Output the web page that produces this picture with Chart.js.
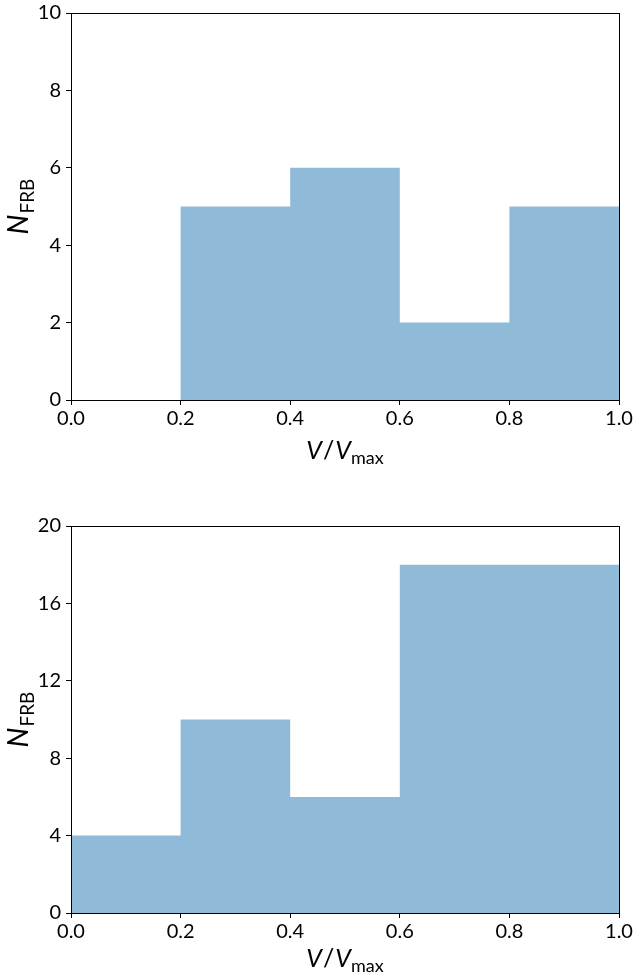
<!DOCTYPE html>
<html>
<head>
<meta charset="utf-8">
<script src="https://cdn.jsdelivr.net/npm/chart.js@4.4.1/dist/chart.umd.min.js"></script>
<style>
  html, body { margin: 0; padding: 0; background: #fff; }
  canvas { display: block; }
</style>
</head>
<body>
<canvas id="top" width="637" height="488"></canvas>
<canvas id="bottom" width="637" height="489"></canvas>
<script>
// ---- data ----
const binEdges = [0.0, 0.2, 0.4, 0.6, 0.8, 1.0];
const countsTop = [0, 5, 6, 2, 5];
const countsBottom = [4, 10, 6, 18, 18];
const xTickValues = [0.0, 0.2, 0.4, 0.6, 0.8, 1.0];
const yTicksTop = [0, 2, 4, 6, 8, 10];
const yTicksBottom = [0, 4, 8, 12, 16, 20];

const FONT = 'Lato, "Open Sans", sans-serif';
const FILL = 'rgba(31,119,180,0.5)';

function stepPoints(edges, counts) {
  return edges.map((e, i) => ({ x: e, y: counts[Math.min(i, counts.length - 1)] }));
}

const framePlugin = {
  id: 'frame',
  afterDraw(chart) {
    const a = chart.chartArea, ctx = chart.ctx;
    ctx.save();
    ctx.strokeStyle = '#000';
    ctx.lineWidth = 1;
    ctx.strokeRect(Math.round(a.left) + 0.5, Math.round(a.top) + 0.5,
                   Math.round(a.right - a.left), Math.round(a.bottom - a.top));
    ctx.restore();
  }
};

function drawParts(ctx, parts, startX, baseY) {
  let x = startX;
  for (const p of parts) {
    ctx.font = p.font;
    ctx.fillText(p.t, x, baseY + (p.dy || 0));
    x += ctx.measureText(p.t).width + (p.after || 0);
  }
}
function widthParts(ctx, parts) {
  let w = 0;
  for (const p of parts) { ctx.font = p.font; w += ctx.measureText(p.t).width + (p.after || 0); }
  return w;
}

const titlesPlugin = {
  id: 'titles',
  afterDraw(chart, args, opts) {
    const ctx = chart.ctx, a = chart.chartArea;
    ctx.save();
    ctx.fillStyle = '#000';
    ctx.textBaseline = 'alphabetic';
    ctx.textAlign = 'left';
    // x title: V/V_max
    const xp = [
      { t: 'V', font: 'italic 25px ' + FONT, after: 1 },
      { t: '/', font: '25px ' + FONT, after: 1 },
      { t: 'V', font: 'italic 25px ' + FONT },
      { t: 'max', font: '18px ' + FONT, dy: 5 }
    ];
    const wx = widthParts(ctx, xp);
    const cx = (a.left + a.right) / 2;
    drawParts(ctx, xp, cx - wx / 2, opts.xTitleY);
    // y title: N_FRB rotated
    const yp = [
      { t: 'N', font: 'italic 28px ' + FONT, after: 1 },
      { t: 'FRB', font: '19px ' + FONT, dy: 6 }
    ];
    const wy = widthParts(ctx, yp);
    const cy = (a.top + a.bottom) / 2;
    ctx.translate(opts.yTitleX, cy);
    ctx.rotate(-Math.PI / 2);
    drawParts(ctx, yp, -wy / 2, 0);
    ctx.restore();
  }
};

function makeChart(id, counts, yTicks, padTop, xAxisH, xTitleY) {
  const yMax = yTicks[yTicks.length - 1];
  return new Chart(document.getElementById(id), {
    type: 'line',
    data: {
      datasets: [{
        data: stepPoints(binEdges, counts),
        stepped: 'before',
        fill: 'origin',
        backgroundColor: FILL,
        borderColor: 'transparent',
        borderWidth: 0,
        pointRadius: 0,
        tension: 0
      }]
    },
    options: {
      responsive: false,
      animation: false,
      devicePixelRatio: 1,
      layout: { padding: { left: 0, top: padTop, right: 18, bottom: 0 } },
      plugins: {
        legend: { display: false },
        tooltip: { enabled: false },
        titles: { xTitleY: xTitleY, yTitleX: 28 }
      },
      scales: {
        x: {
          type: 'linear',
          min: 0, max: 1,
          afterBuildTicks: s => { s.ticks = xTickValues.map(v => ({ value: v })); },
          afterFit: s => { s.height = xAxisH; s.paddingLeft = 0; s.paddingRight = 0; },
          ticks: {
            color: '#000',
            font: { family: FONT, size: 20 },
            padding: 2,
            maxRotation: 0,
            autoSkip: false,
            callback: v => Number(v).toFixed(1)
          },
          grid: { drawOnChartArea: false, drawTicks: true, tickLength: 5, color: '#000' },
          border: { display: true, color: '#000' }
        },
        y: {
          type: 'linear',
          min: 0, max: yMax,
          afterBuildTicks: s => { s.ticks = yTicks.map(v => ({ value: v })); },
          afterFit: s => { s.width = 71; s.paddingTop = 0; s.paddingBottom = 0; },
          ticks: {
            color: '#000',
            font: { family: FONT, size: 20 },
            padding: 5,
            autoSkip: false,
            callback: v => String(v)
          },
          grid: { drawOnChartArea: false, drawTicks: true, tickLength: 5, color: '#000' },
          border: { display: true, color: '#000' }
        }
      }
    },
    plugins: [framePlugin, titlesPlugin]
  });
}

// top: chart area 13..400 in a 488 canvas ; bottom: 38..425 in 489 canvas
makeChart('top', countsTop, yTicksTop, 13, 88, 459);
makeChart('bottom', countsBottom, yTicksBottom, 38, 64, 479);
</script>
</body>
</html>
